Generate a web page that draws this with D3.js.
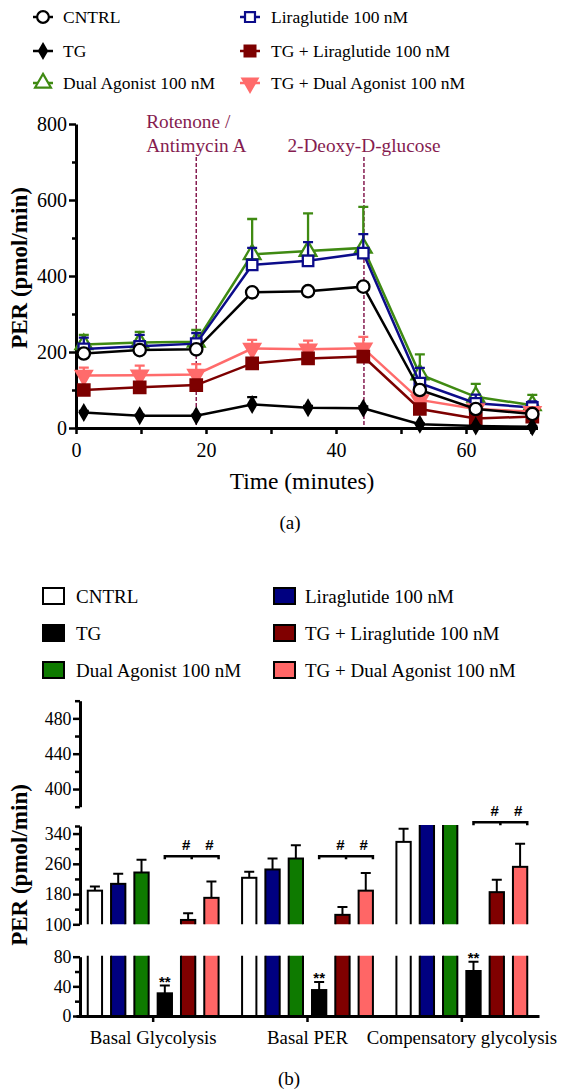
<!DOCTYPE html>
<html>
<head>
<meta charset="utf-8">
<script src="https://cdn.jsdelivr.net/npm/d3@7"></script>
<style>
body { margin: 0; background: #fff; }
svg text { font-family: "Liberation Serif", serif; fill: #000; }
</style>
</head>
<body>
<svg id="chart" width="565" height="1091"></svg>
<script>
// ---- panel (a): PER time course ----
const times = [1.2, 9.8, 18.5, 27.1, 35.7, 44.2, 52.9, 61.5, 70.2];
const perCntrl = [196, 205, 207, 357, 360, 372, 100, 50, 37];
const perCntrlErr = [8, 8, 8, 10, 10, 12, 8, 6, 5];
const perTg = [41, 32, 32, 62, 53, 52, 10, 5, 3];
const perTgErr = [4, 3, 3, 19, 5, 5, 2, 2, 2];
const perDual = [220, 225, 227, 457, 466, 474, 141, 82, 60];
const perDualErr = [25, 28, 31, 93, 99, 108, 53, 34, 27];
const perLira = [208, 215, 222, 429, 440, 460, 118, 65, 54];
const perLiraErr = [30, 30, 28, 45, 49, 50, 40, 23, 16];
const perTgLira = [100, 107, 113, 170, 183, 188, 50, 25, 30];
const perTgLiraErr = [6, 6, 6, 8, 8, 8, 5, 4, 4];
const perTgDual = [138, 139, 141, 209, 207, 210, 74, 50, 43];
const perTgDualErr = [21, 25, 27, 23, 23, 30, 10, 8, 6];
const injectTimes = [18.5, 44.3];
const injectLabels = [["Rotenone /", "Antimycin A"], ["2-Deoxy-D-glucose"]];
const timeTicks = [0, 20, 40, 60];
const perTicks = [0, 200, 400, 600, 800];

// ---- panel (b): bar summary ----
const groups = ["Basal Glycolysis", "Basal PER", "Compensatory glycolysis"];
const barCntrl = [189, 223, 318];
const barCntrlErr = [11, 16, 35];
const barLira = [207, 245, 366];
const barLiraErr = [27, 29, 6];
const barDual = [237, 274, 366];
const barDualErr = [34, 35, 6];
const barTg = [30.6, 35, 60.7];
const barTgErr = [10.5, 11, 12.6];
const barTgLira = [111.5, 125, 185];
const barTgLiraErr = [17.5, 21, 33];
const barTgDual = [170, 189, 252];
const barTgDualErr = [43, 47, 61];
const tgStars = ["**", "**", "**"];
const hashLevel = [280, 280, 370];

const names = ["CNTRL", "TG", "Dual Agonist 100 nM", "Liraglutide 100 nM",
  "TG + Liraglutide 100 nM", "TG + Dual Agonist 100 nM"];

const svg = d3.select('#chart');
const FONT = '"Liberation Serif", serif';
const ANNO = '#851c50';

// ======================= panel (a) =======================
const lineSeries = [
  { name: names[2], v: perDual, e: perDualErr, color: '#3f8a12', fill: '#fff', sym: d3.symbolTriangle, size: 120, rot: 0 },
  { name: names[3], v: perLira, e: perLiraErr, color: '#0c0c8a', fill: '#fff', sym: d3.symbolSquare, size: 110, rot: 0 },
  { name: names[5], v: perTgDual, e: perTgDualErr, color: '#ff6b6b', fill: '#ff6b6b', sym: d3.symbolTriangle, size: 110, rot: 180 },
  { name: names[4], v: perTgLira, e: perTgLiraErr, color: '#7d0000', fill: '#7d0000', sym: d3.symbolSquare, size: 130, rot: 0 },
  { name: names[1], v: perTg, e: perTgErr, color: '#000', fill: '#000', sym: d3.symbolDiamond, size: 60, rot: 0 },
  { name: names[0], v: perCntrl, e: perCntrlErr, color: '#000', fill: '#fff', sym: d3.symbolCircle, size: 120, rot: 0 }
];

const x = d3.scaleLinear().domain([0, 71]).range([76, 537.5]);
const y = d3.scaleLinear().domain([0, 800]).range([428, 124]);

// top legend
const legA = svg.append('g');
names.forEach((n, i) => {
  const s = lineSeries.find(d => d.name === n);
  const col = Math.floor(i / 3), row = i % 3;
  const cx = [43, 250][col], cy = [17, 51, 83][row];
  legA.append('line').attr('x1', cx - 10).attr('x2', cx + 10).attr('y1', cy).attr('y2', cy)
    .attr('stroke', s.color).attr('stroke-width', 2.5);
  legA.append('path').attr('d', d3.symbol(s.sym, s.size * 0.9)())
    .attr('transform', `translate(${cx},${cy}) rotate(${s.rot})`)
    .attr('fill', s.fill).attr('stroke', s.color).attr('stroke-width', 2.2);
  legA.append('text').attr('x', [63, 271][col]).attr('y', cy).attr('dy', '0.35em')
    .attr('font-size', 17.5).text(n);
});

// injection markers
injectTimes.forEach((t, i) => {
  svg.append('line').attr('x1', x(t)).attr('x2', x(t)).attr('y1', 157).attr('y2', y(0))
    .attr('stroke', ANNO).attr('stroke-width', 1.5).attr('stroke-dasharray', '4,2');
  const lines = injectLabels[i];
  const g = svg.append('g');
  const last = g.append('text').attr('x', x(t)).attr('y', 152).attr('text-anchor', 'middle')
    .attr('font-size', 19.3).attr('fill', ANNO).style('fill', ANNO).text(lines[lines.length - 1]);
  const startX = x(t) - last.node().getComputedTextLength() / 2;
  lines.slice(0, -1).forEach((l, k) => {
    g.append('text').attr('x', startX).attr('y', 152 - 24 * (lines.length - 1 - k))
      .attr('font-size', 19.3).style('fill', ANNO).text(l);
  });
});

// axes (a)
const yAxA = svg.append('g').attr('transform', 'translate(76,0)')
  .call(d3.axisLeft(y).tickValues(perTicks).tickSize(7).tickSizeOuter(0).tickPadding(2));
svg.append('g').attr('transform', 'translate(76,0)')
  .call(d3.axisLeft(y).tickValues([100, 300, 500, 700]).tickSize(4).tickFormat('')).select('.domain').remove();
const xAxA = svg.append('g').attr('transform', `translate(0,${y(0)})`)
  .call(d3.axisBottom(x).tickValues(timeTicks).tickSize(6).tickSizeOuter(0).tickPadding(9));
svg.append('g').attr('transform', `translate(0,${y(0)})`)
  .call(d3.axisBottom(x).tickValues([10, 30, 50, 70]).tickSize(6).tickFormat('')).select('.domain').remove();

// series (a)
lineSeries.forEach(s => {
  const g = svg.append('g');
  const pts = times.map((t, i) => [t, s.v[i], s.e[i]]);
  g.selectAll('.eb').data(pts).enter().append('path')
    .attr('d', d => `M${x(d[0])},${y(d[1])}V${y(d[1] + d[2])}M${x(d[0]) - 5},${y(d[1] + d[2])}H${x(d[0]) + 5}`)
    .attr('stroke', s.color).attr('stroke-width', 2.3).attr('fill', 'none');
  g.append('path').datum(pts)
    .attr('d', d3.line().x(d => x(d[0])).y(d => y(d[1])))
    .attr('fill', 'none').attr('stroke', s.color).attr('stroke-width', 2.5);
  g.selectAll('.pt').data(pts).enter().append('path')
    .attr('d', d3.symbol(s.sym, s.size)())
    .attr('transform', d => `translate(${x(d[0])},${y(d[1])}) rotate(${s.rot})`)
    .attr('fill', s.fill).attr('stroke', s.color).attr('stroke-width', 2.3);
});

[yAxA, xAxA].forEach(a => {
  a.attr('font-family', FONT).attr('font-size', 20);
  a.selectAll('line').attr('stroke-width', 2.5);
  a.select('.domain').attr('stroke-width', 3);
});
svg.selectAll('.tick line').attr('stroke-width', 2.5);

svg.append('text').attr('transform', 'translate(27,268) rotate(-90)').attr('text-anchor', 'middle')
  .attr('font-size', 23).attr('font-weight', 'bold').text('PER (pmol/min)');
svg.append('text').attr('x', 302).attr('y', 489).attr('text-anchor', 'middle')
  .attr('font-size', 23.5).text('Time (minutes)');
svg.append('text').attr('x', 290).attr('y', 529).attr('text-anchor', 'middle')
  .attr('font-size', 19).text('(a)');

// ======================= panel (b) =======================
const barOrder = [names[0], names[3], names[2], names[1], names[4], names[5]];
const barData = {};
barData[names[0]] = { v: barCntrl, e: barCntrlErr, fill: '#fff' };
barData[names[1]] = { v: barTg, e: barTgErr, fill: '#000' };
barData[names[2]] = { v: barDual, e: barDualErr, fill: '#0e7a00' };
barData[names[3]] = { v: barLira, e: barLiraErr, fill: '#000080' };
barData[names[4]] = { v: barTgLira, e: barTgLiraErr, fill: '#800000' };
barData[names[5]] = { v: barTgDual, e: barTgDualErr, fill: '#ff6666' };

// bottom legend
const legB = svg.append('g');
names.forEach((n, i) => {
  const col = Math.floor(i / 3), row = i % 3;
  const cy = [596, 633, 670][row];
  legB.append('rect').attr('x', [43, 274][col]).attr('y', cy - 8).attr('width', 21).attr('height', 16)
    .attr('fill', barData[n].fill).attr('stroke', '#000').attr('stroke-width', 2);
  legB.append('text').attr('x', [76, 305][col]).attr('y', cy).attr('dy', '0.35em')
    .attr('font-size', 19).text(n);
});

const x0 = d3.scaleBand().domain(groups).range([76, 539]).padding(0);
const x1 = d3.scaleBand().domain(barOrder).range([0, x0.bandwidth()]).paddingInner(0.386).paddingOuter(0.504);

const segs = [
  { dom: [0, 80], rng: [1016, 956.7], major: [0, 40, 80], minor: [20, 60] },
  { dom: [100, 360], rng: [924.3, 826], major: [100, 180, 260, 340], minor: [140, 220, 300, 360] },
  { dom: [380, 500], rng: [806.7, 700.7], major: [400, 440, 480], minor: [380, 420, 460, 500] }
];

const flat = [];
groups.forEach((g, gi) => barOrder.forEach(n => flat.push({ g, n, v: barData[n].v[gi], e: barData[n].e[gi], fill: barData[n].fill })));

segs.forEach((s, si) => {
  s.y = d3.scaleLinear().domain(s.dom).range(s.rng);
  const cid = 'clip' + si;
  svg.append('clipPath').attr('id', cid).append('rect')
    .attr('x', 81).attr('y', s.rng[1] - 1).attr('width', 480).attr('height', s.rng[0] - s.rng[1] + 1);
  const g = svg.append('g').attr('clip-path', `url(#${cid})`);
  g.selectAll('rect').data(flat).enter().append('rect')
    .attr('x', d => x0(d.g) + x1(d.n))
    .attr('y', d => s.y(d.v))
    .attr('width', x1.bandwidth())
    .attr('height', d => Math.max(0, s.y(s.dom[0]) + 4 - s.y(d.v)))
    .attr('fill', d => d.fill).attr('stroke', '#000').attr('stroke-width', 2);
  g.selectAll('path').data(flat).enter().append('path')
    .attr('d', d => {
      const cx = x0(d.g) + x1(d.n) + x1.bandwidth() / 2;
      return `M${cx},${s.y(d.v)}V${s.y(d.v + d.e)}M${cx - 5},${s.y(d.v + d.e)}H${cx + 5}`;
    })
    .attr('stroke', '#000').attr('stroke-width', 2).attr('fill', 'none');

  const ax = svg.append('g').attr('transform', 'translate(80,0)')
    .call(d3.axisLeft(s.y).tickValues(s.major).tickSize(7).tickSizeOuter(0).tickPadding(1.5));
  ax.attr('font-family', FONT).attr('font-size', 17.8);
  ax.select('.domain').attr('stroke-width', 3);
  ax.selectAll('line').attr('stroke-width', 2.5);
  const mn = svg.append('g').attr('transform', 'translate(80,0)')
    .call(d3.axisLeft(s.y).tickValues(s.minor).tickSize(5).tickFormat(''));
  mn.select('.domain').remove();
  mn.selectAll('line').attr('stroke-width', 2.5);
});

const yb = segs[0].y, ym = segs[1].y;
const xAxB = svg.append('g').attr('transform', `translate(0,${yb(0)})`)
  .call(d3.axisBottom(x0).tickSize(6).tickSizeOuter(0).tickPadding(9));
xAxB.attr('font-family', FONT).attr('font-size', 18.8);
xAxB.select('.domain').attr('stroke-width', 3);
xAxB.selectAll('line').attr('stroke-width', 2.5);

// significance marks
groups.forEach((g, gi) => {
  const tgX = x0(g) + x1(names[1]) + x1.bandwidth() / 2;
  svg.append('text').attr('x', tgX).attr('y', yb(barTg[gi] + barTgErr[gi]) + 1)
    .attr('text-anchor', 'middle').attr('font-size', 15).attr('font-weight', 'bold')
    .style('font-family', '"Liberation Sans", sans-serif').text(tgStars[gi]);
  const xa = tgX, xb = x0(g) + x1(names[5]) + x1.bandwidth();
  const ly = ym(hashLevel[gi]);
  svg.append('path')
    .attr('d', `M${xa},${ly + 3}V${ly}H${xb}V${ly + 3}M${(xa + xb) / 2},${ly}v3`)
    .attr('stroke', '#000').attr('stroke-width', 2.5).attr('fill', 'none');
  [names[4], names[5]].forEach(n => {
    svg.append('text').attr('x', x0(g) + x1(n) + x1.bandwidth() / 2 - 2).attr('y', ly - 6)
      .attr('text-anchor', 'middle').attr('font-size', 15).attr('font-weight', 'bold')
      .style('font-family', '"Liberation Sans", sans-serif').text('#');
  });
});

svg.append('text').attr('transform', 'translate(27,865) rotate(-90)').attr('text-anchor', 'middle')
  .attr('font-size', 23).attr('font-weight', 'bold').text('PER (pmol/min)');
svg.append('text').attr('x', 289).attr('y', 1085).attr('text-anchor', 'middle')
  .attr('font-size', 19).text('(b)');
</script>
</body>
</html>
